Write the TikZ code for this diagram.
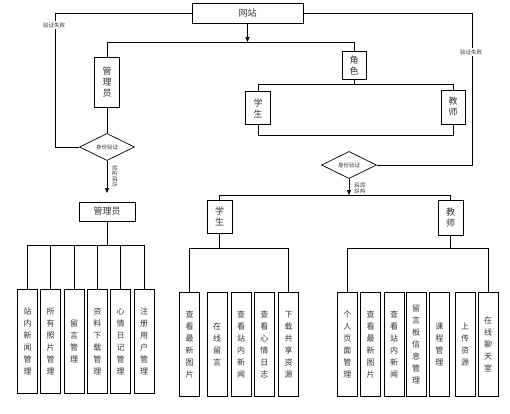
\documentclass[tikz,border=0pt]{standalone}
\usepackage{fontspec}
\setmainfont{Noto Sans CJK SC}
\usetikzlibrary{shapes.geometric,arrows.meta}
\begin{document}
\begin{tikzpicture}[x=1pt,y=-1pt,line width=0.7pt,
  box/.style={draw,inner sep=0pt,align=center,text=black!80,font=\fontsize{9}{11}\selectfont},
  leaf/.style={box,minimum width=20,minimum height=104,font=\fontsize{8}{12}\selectfont},
  check/.style={draw,diamond,inner sep=0pt,minimum width=55,minimum height=24,text=black!80,font=\fontsize{5.5}{6}\selectfont},
  tag/.style={inner sep=1pt,text=black!80,font=\fontsize{5.5}{6}\selectfont},
  go/.style={-{Triangle[length=5pt,width=4pt]}}]
\def\leaf#1#2#3#4{\node[leaf] (#1) at (#2,#3) {#4};}
\useasboundingbox (0,0) rectangle (510,413);
\node[box,minimum width=111,minimum height=20] (web) at (247.5,13) {网站};
\node[box,minimum width=25,minimum height=50] (adm) at (107,82) {管\\理\\员};
\node[box,minimum width=24,minimum height=28] (role) at (354,65) {角\\色};
\node[box,minimum width=25,minimum height=33] (stu) at (258,108) {学\\生};
\node[box,minimum width=24,minimum height=34] (tea) at (453,107) {教\\师};
\node[check] (chkA) at (107,147) {身份验证};
\node[check] (chkB) at (349,165) {身份验证};
\node[box,minimum width=56,minimum height=19] (admB) at (107,211.5) {管理员};
\node[box,minimum width=25,minimum height=33] (stuB) at (219.5,216.5) {学\\生};
\node[box,minimum width=25,minimum height=35] (teaB) at (450.5,217.5) {教\\师};
\coordinate (fork) at (247.5,42);
\coordinate (forkL) at (107,42);
\coordinate (forkR) at (354,42);
\coordinate (rU) at (354,84);
\coordinate (rUL) at (258,84);
\coordinate (rUR) at (453,84);
\coordinate (rDL) at (258,135);
\coordinate (rDR) at (453,135);
\coordinate (lpL) at (55,147);
\coordinate (lpR) at (472,165);
\coordinate (okA) at (107,193);
\coordinate (okB) at (349,195);
\coordinate (okBL) at (219.5,195);
\coordinate (okBR) at (450.5,195);
\coordinate (aBar) at (107,245);
\coordinate (sBar) at (219.5,248);
\coordinate (tBar) at (450.5,248);
\draw[go] (web) -- (fork);
\draw (forkL) -- (forkR);
\draw (forkL) -- (adm);
\draw (forkR) -- (role);
\draw (role) -- (rU);
\draw (rUL) -- (rUR);
\draw (rUL) -- (stu);
\draw (rUR) -- (tea);
\draw (stu) -- (rDL) -- (rDR) -- (tea);
\draw (adm) -- (chkA);
\draw (web.west) -| (lpL) -- (chkA.west);
\draw (web.east) -| (lpR) -- (chkB.east);
\node[tag,fill=white] (failA) at (54,25) {验证失败};
\node[tag,fill=white] (failB) at (471,52) {验证失败};
\draw[go] (chkA) -- (okA);
\node[tag,rotate=-90] (passA) at (115,176) {验证成功};
\draw[go] (chkB) -- (okB);
\node[tag,rotate=-90,align=center] (passB) at (360,188) {验证\\成功};
\draw (okBL) -- (okBR);
\draw (okBL) -- (stuB);
\draw (okBR) -- (teaB);
\leaf{a1}{27.5}{341}{站\\内\\新\\闻\\管\\理}
\leaf{a2}{50.7}{341}{所\\有\\照\\片\\管\\理}
\leaf{a3}{74.2}{341}{留\\言\\管\\理}
\leaf{a4}{97.3}{341}{资\\料\\下\\载\\管\\理}
\leaf{a5}{120.7}{341}{心\\情\\日\\记\\管\\理}
\leaf{a6}{144}{341}{注\\册\\用\\户\\管\\理}
\draw (admB) -- (aBar);
\foreach \i in {1,...,6} \draw (a\i) |- (aBar);
\leaf{s1}{189.7}{344.5}{查\\看\\最\\新\\图\\片}
\leaf{s2}{217}{344.5}{在\\线\\留\\言}
\leaf{s3}{241}{344.5}{查\\看\\站\\内\\新\\闻}
\leaf{s4}{264.3}{344.5}{查\\看\\心\\情\\日\\志}
\leaf{s5}{288.7}{344.5}{下\\载\\共\\享\\资\\源}
\draw (stuB) -- (sBar);
\draw (s1) |- (sBar);
\draw (s5) |- (sBar);
\leaf{t1}{347.3}{344.7}{个\\人\\页\\面\\管\\理}
\leaf{t2}{370.7}{344.7}{查\\看\\最\\新\\图\\片}
\leaf{t3}{394.2}{344.7}{查\\看\\站\\内\\新\\闻}
\leaf{t4}{416}{344.7}{留\\言\\板\\信\\息\\管\\理}
\leaf{t5}{439.3}{344.7}{课\\程\\管\\理}
\leaf{t6}{465}{344.7}{上\\传\\资\\源}
\leaf{t7}{488}{344.7}{在\\线\\聊\\天\\室}
\draw (teaB) -- (tBar);
\draw (t1) |- (tBar);
\draw (t7) |- (tBar);
\end{tikzpicture}
\end{document}
